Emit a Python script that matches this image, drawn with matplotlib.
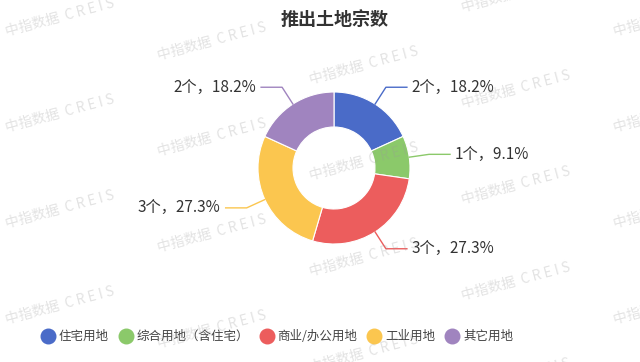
import numpy as np
import matplotlib
matplotlib.use("Agg")
import matplotlib.pyplot as plt

plt.rcParams['font.family'] = ['Noto Sans CJK SC', 'DejaVu Sans']

# 数据
categories = ['住宅用地', '综合用地（含住宅）', '商业/办公用地', '工业用地', '其它用地']
counts = [2, 1, 3, 3, 2]
colors = ['#4a6bc8', '#8bc96a', '#ec5d5d', '#fbc64f', '#a084bf']
title = '推出土地宗数'
watermark = '中指数据  C R E I S'

W, H = 640, 362
fig = plt.figure(figsize=(W / 100, H / 100), dpi=100)
fig.patch.set_facecolor('white')
ax = fig.add_axes([0, 0, 1, 1])


def py(y):
    # 像素坐标（自上而下）转换为数据坐标
    return H - y


cx, cy, r_out, r_in = 334, 168, 76, 41
ax.pie(counts, colors=colors, startangle=90, counterclock=False,
       center=(cx, py(cy)), radius=r_out, frame=True,
       wedgeprops=dict(width=r_out - r_in, edgecolor='white', linewidth=0.8))
ax.set_xlim(0, W)
ax.set_ylim(0, H)
ax.set_aspect('equal')
ax.axis('off')

# 标签与引导线
total = sum(counts)
cum = np.cumsum([0] + counts)
for i, n in enumerate(counts):
    mid = (cum[i] + cum[i + 1]) / 2 / total * 2 * np.pi
    s, c = np.sin(mid), np.cos(mid)
    x0, y0 = cx + r_out * s, cy - r_out * c
    x1, y1 = cx + (r_out + 20) * s, cy - (r_out + 20) * c
    d = 1 if s >= 0 else -1
    x2 = x1 + 21 * d
    ax.plot([x0, x1, x2], [py(y0), py(y1), py(y1)], color=colors[i], lw=1)
    ax.text(x2 + 5 * d, py(y1), f'{n}个，{n / total * 100:.1f}%',
            ha='left' if d > 0 else 'right', va='center',
            fontsize=11, color='#333333')

# 标题
fig.text(335 / W, 1 - 20 / H, title, ha='center', va='center',
         fontsize=13, fontweight='bold', color='#333333')

# 图例
fig.canvas.draw()
renderer = fig.canvas.get_renderer()
x = 48
for name, col in zip(categories, colors):
    ax.scatter([x], [py(336)], s=110, color=col, zorder=3)
    t = ax.text(x + 11, py(336), name, ha='left', va='center',
                fontsize=9, color='#444444')
    bb = t.get_window_extent(renderer=renderer)
    x = bb.x1 + 17

# 水印
for i in range(5):
    for j in range(-1, 5):
        wx = 60 + 152 * i
        wy = 18 + 24 * i + 96 * j
        if -30 < wy < H + 30:
            ax.text(wx, py(wy), watermark, ha='center', va='center',
                    rotation=15, fontsize=10, color='#9a9a9a', alpha=0.28,
                    zorder=10)

fig.savefig('out.png', dpi=100)
